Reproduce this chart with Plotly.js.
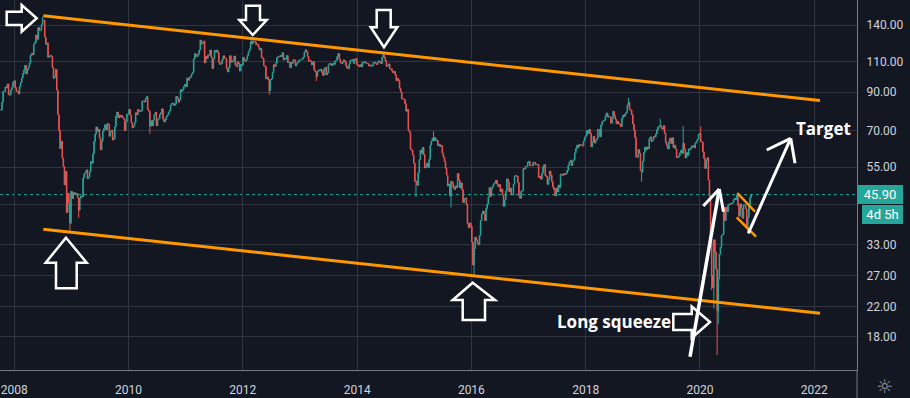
<!DOCTYPE html>
<html><head><meta charset="utf-8">
<script src="https://cdn.plot.ly/plotly-3.0.1.min.js"></script>
<style>html,body{margin:0;padding:0;background:#131722;}#chart{width:910px;height:398px;}</style>
</head><body><div id="chart"></div>
<script>
// ---------- DATA (weekly Brent candles) ----------
const firstWeek = "2007-10-08";
const firstOpen = 80.0;
const close2007 = [80.1,84.3,90.5,90.6,93.2,92.7,95.0,88.6,88.3,91.3,92.9,96.0,97.0];
const close2008 = [92.7,90.6,90.7,89.0,93.4,96.0,98.8,101.8,104.2,107.4,101.5,104.2,106.2,109.0,114.7,116.2,115.0,123.5,125.0,131.0,127.5,137.7,135.0,135.4,140.2,144.2,144.5,129.3,123.3,124.4,113.2,113.8,114.6,114.0,106.0,98.6,99.7,104.6,91.3,77.7,70.0,62.1,65.2,58.3,55.2,48.9,53.5,40.8,46.3,43.4,38.0,46.9];
const close2009 = [44.7,46.5,46.5,45.9,46.2,45.0,41.4,44.8,45.5,45.2,51.2,52.6,53.2,54.0,51.0,51.5,53.4,57.0,56.4,60.0,65.1,68.4,71.6,69.6,70.5,66.7,61.6,65.2,69.5,70.9,72.6,70.2,73.2,72.8,67.4,69.4,70.1,65.7,66.3,71.7,76.9,79.0,76.0,77.4,76.4,77.2,76.1,75.5,70.0,74.0,77.9,77.9];
const close2010 = [80.4,77.4,73.6,71.2,71.9,73.6,78.6,77.6,80.3,79.6,79.2,79.8,84.9,84.9,84.4,86.3,87.4,80.3,79.4,72.0,74.6,72.1,74.9,77.6,78.9,72.1,75.4,75.5,77.7,78.7,80.7,75.4,74.0,75.2,76.7,77.5,78.8,79.9,82.7,83.7,83.7,82.5,83.2,87.5,86.8,84.3,85.6,91.4,90.5,91.8,93.5,94.8];
const close2011 = [93.3,98.7,97.4,99.4,99.3,101.4,102.5,112.1,116.0,113.8,114.0,115.6,118.7,126.6,123.5,123.9,125.9,109.1,113.8,112.4,115.0,114.8,118.8,113.2,105.1,111.9,118.3,117.2,118.7,116.7,109.4,108.0,108.6,111.4,114.3,112.8,112.2,105.0,102.8,105.9,114.4,109.6,109.9,111.0,114.2,107.6,106.4,109.9,108.6,103.4,107.9,107.4];
const close2012 = [113.1,111.0,110.3,111.5,114.6,117.3,119.6,125.5,123.6,125.9,125.8,125.1,122.9,123.4,121.2,118.8,120.0,113.2,112.3,107.1,106.8,98.4,99.5,97.6,90.9,97.8,98.2,102.4,107.8,106.5,108.9,112.9,113.7,113.6,114.6,113.8,116.7,111.4,112.4,111.9,114.6,109.4,109.6,105.7,109.4,108.9,111.4,111.2,107.0,108.9,109.3,110.8,111.3];
const close2013 = [111.6,111.9,113.3,116.8,118.9,117.7,114.0,110.4,110.9,109.8,107.6,110.0,104.1,102.9,99.7,103.2,104.2,103.9,104.6,102.6,100.4,104.6,105.9,100.9,102.2,107.7,108.8,108.1,107.2,108.9,108.0,110.4,111.0,114.0,116.1,111.7,109.2,108.6,109.5,111.3,109.9,106.9,105.5,105.1,108.5,111.1,110.8,111.6,108.8,111.8,112.2,107.9];
const close2014 = [107.3,106.5,107.9,106.4,109.6,109.1,110.0,109.1,108.7,108.6,106.9,107.6,106.7,107.3,109.5,109.6,108.6,108.0,109.8,110.5,109.4,108.6,113.0,114.8,113.3,110.6,106.7,107.2,108.4,105.0,105.0,103.5,102.3,103.2,100.8,97.1,98.4,97.0,92.3,90.2,86.2,86.1,85.9,83.4,79.4,80.4,70.2,69.1,61.9,61.4,59.5,56.4];
const close2015 = [50.1,50.2,48.8,53.0,57.8,61.5,60.2,62.6,59.7,54.7,55.3,56.4,54.9,57.9,63.5,65.3,66.5,65.4,66.8,65.4,65.6,63.3,63.9,63.0,63.3,60.3,58.7,57.1,54.6,52.2,48.6,49.2,45.5,50.1,49.6,48.1,47.5,48.6,48.1,52.7,50.5,48.0,49.6,47.4,43.6,44.7,44.9,43.0,37.9,36.9,38.1,37.3];
const close2016 = [33.6,28.9,32.2,34.7,34.1,33.4,33.0,35.1,38.7,40.4,41.2,40.4,38.7,41.9,43.1,45.1,48.1,45.4,47.8,48.7,49.3,49.6,50.5,49.2,48.4,49.0,46.8,47.6,45.7,42.5,44.3,47.0,50.9,49.9,46.8,47.9,45.8,45.9,49.1,51.9,52.0,51.8,49.7,45.6,44.8,46.9,47.2,54.5,54.3,55.2,55.2,56.8];
const close2017 = [57.1,55.5,55.5,55.5,56.8,56.7,55.8,56.0,55.9,51.4,51.8,50.8,52.8,55.2,55.9,52.0,51.7,49.1,50.8,53.6,52.2,50.0,48.2,47.4,45.5,47.9,46.7,48.9,48.1,52.5,52.4,52.1,52.7,52.4,52.8,53.8,55.6,56.9,57.5,55.6,57.2,57.8,60.4,62.1,63.5,62.7,63.9,63.7,63.4,63.2,65.3,66.9];
const close2018 = [67.6,69.9,68.6,70.5,68.6,62.8,64.8,67.3,64.4,65.5,66.2,70.5,70.3,67.1,72.6,74.1,74.6,74.9,77.1,78.5,76.4,76.8,76.5,73.4,75.6,79.4,77.1,75.3,73.1,74.3,73.2,72.8,71.8,75.8,77.4,76.8,78.1,78.8,82.7,84.2,80.4,79.8,77.6,73.0,70.2,66.8,58.8,58.7,61.7,60.3,53.8,53.2,57.1];
const close2019 = [60.5,62.7,61.6,62.8,62.1,66.3,67.1,65.1,65.7,67.2,67.0,68.4,70.3,71.6,72.0,72.2,70.9,70.6,72.2,68.7,64.5,63.3,62.0,65.2,66.6,64.2,66.7,62.5,63.5,61.9,58.5,58.6,59.3,60.4,61.5,60.2,64.3,61.9,58.4,60.5,59.4,62.0,61.7,62.5,63.3,63.4,62.4,64.4,65.2,66.1,68.2,68.6];
const close2020 = [65.0,64.9,60.7,58.2,54.5,57.3,58.5,50.5,45.3,33.9,27.0,24.9,34.1,31.5,28.1,21.4,26.4,31.0,32.5,35.1,35.3,42.3,38.7,42.2,41.0,42.8,43.2,43.1,43.3,43.5,44.4,44.8,44.4,45.8,42.7,39.8,43.2,41.9,39.3,42.9,42.9,41.8,37.5,39.5,42.8,45.0,45.9];
// visible wick extremes (week start, price)
const wickHighs = [["2008-06-30",147.8],["2011-04-04",127.0],["2012-02-27",128.4],["2013-02-04",119.2],["2014-06-16",115.7],["2015-05-04",69.6],["2018-10-01",86.7],["2019-04-22",75.6],["2019-09-16",72.0],["2020-01-06",71.8]];
const wickLows = [["2008-12-22",36.2],["2009-02-16",39.4],["2010-05-17",68.5],["2012-06-18",88.5],["2013-04-15",96.8],["2015-01-12",45.2],["2015-08-24",42.2],["2016-01-18",27.1],["2018-12-24",50.0],["2020-03-16",24.5],["2020-03-30",21.7],["2020-04-20",15.98],["2020-04-27",19.6],["2020-10-26",37.2],["2020-11-02",36.0]];
const yTickVals = [18,22,27,33,43,55,70,90,110,140];
const yTickText = ["18.00","22.00","27.00","33.00","","55.00","70.00","90.00","110.00","140.00"];
const xTickVals = ["2008-01-01","2010-01-01","2012-01-01","2014-01-01","2016-01-01","2018-01-01","2020-01-01","2022-01-01"];
const xTickText = ["2008","2010","2012","2014","2016","2018","2020","2022"];
const lastPriceText = "45.90";
const countdownText = "4d 5h";
const labelTarget = "Target";
const labelSqueeze = "Long squeeze";

// ---------- build candles ----------
const closes = [].concat(close2007,close2008,close2009,close2010,close2011,close2012,close2013,close2014,close2015,close2016,close2017,close2018,close2019,close2020);
const t0 = Date.parse(firstWeek + "T00:00:00Z");
const dates = closes.map((_, i) => new Date(t0 + i * 7 * 864e5).toISOString().slice(0, 10));
const opens = closes.map((c, i) => i === 0 ? firstOpen : closes[i - 1]);
const highs = closes.map((c, i) => Math.max(c, opens[i]));
const lows = closes.map((c, i) => Math.min(c, opens[i]));
wickHighs.forEach(([d, v]) => { const i = dates.indexOf(d); if (i >= 0) highs[i] = Math.max(highs[i], v); });
wickLows.forEach(([d, v]) => { const i = dates.indexOf(d); if (i >= 0) lows[i] = Math.min(lows[i], v); });
const lastClose = closes[closes.length - 1];

// ---------- drawing helpers (plot area pixels -> paper) ----------
const PW = 857, PH = 370;
const X = px => px / PW;
const Y = py => 1 - py / PH;
const BG = '#131722';
const path = pts => 'M' + pts.map(p => X(p[0]).toFixed(5) + ',' + Y(p[1]).toFixed(5)).join(' L') + ' Z';
const line = (x0, y0, x1, y1, color, width) => ({type:'line', xref:'paper', yref:'paper', x0:X(x0), y0:Y(y0), x1:X(x1), y1:Y(y1), line:{color:color, width:width}, layer:'above'});
const blockArrow = pts => ({type:'path', xref:'paper', yref:'paper', path:path(pts), fillcolor:BG, line:{color:'#ffffff', width:2.5}, layer:'above'});

const shapes = [
  // price line
  {type:'line', xref:'paper', yref:'y', x0:0, x1:1, y0:lastClose, y1:lastClose, line:{color:'#26a69a', width:1, dash:'dot'}, layer:'below'},
  // channel trendlines
  line(43.3, 15.7, 820, 100.5, '#ff9800', 3),
  line(43.3, 229.3, 820, 313.3, '#ff9800', 3),
  // small flag
  line(737.3, 193, 755, 211.7, '#ff9800', 2.5),
  line(736.7, 217.3, 756, 236.7, '#ff9800', 2.5),
  // block arrows
  blockArrow([[6.7,11.7],[21.7,11.7],[21.7,5],[36.7,18.3],[21.7,31.7],[21.7,25],[6.7,25]]),
  blockArrow([[246,5.7],[260,5.7],[260,20],[266.7,20],[252.7,35],[239.3,20],[246,20]]),
  blockArrow([[376.7,10],[390.7,10],[390.7,27.3],[397.3,27.3],[384,47.3],[370.7,27.3],[376.7,27.3]]),
  blockArrow([[66,237.7],[86.7,262.7],[76.7,262.7],[76.7,288.3],[56,288.3],[56,262.7],[45.7,262.7]]),
  blockArrow([[472.7,282.7],[495,300],[485,300],[485,320],[462.7,320],[462.7,300],[452.7,300]]),
  blockArrow([[673.3,314],[691.7,314],[691.7,306.5],[710,322],[691.7,338],[691.7,330],[673.3,330]]),
  // long white arrow
  line(690, 356.7, 719.3, 189, '#ffffff', 3.5),
  line(703.3, 206, 719.3, 189, '#ffffff', 3),
  line(719.3, 189, 723.5, 211.7, '#ffffff', 3),
  // target arrow
  line(748.3, 233.3, 790.7, 138.3, '#ffffff', 3),
  line(766.7, 150, 790.7, 138.3, '#ffffff', 3),
  line(790.7, 138.3, 795, 163.3, '#ffffff', 3),
  // price scale separator down to bottom edge
  {type:'line', xref:'paper', yref:'paper', x0:1, x1:1, y0:0, y1:Y(398), line:{color:'#787b86', width:1}},
  // tick mark on the price label
  line(857.5, 194.4, 861.5, 194.4, '#ffffff', 1.5)
];

const annotations = [
  {xref:'paper', yref:'paper', x:X(823.3), y:Y(128.5), xanchor:'center', yanchor:'middle', text:'<b>' + labelTarget + '</b>', showarrow:false, font:{family:'Open Sans', size:17, color:'#ffffff'}},
  {xref:'paper', yref:'paper', x:X(613.5), y:Y(321), xanchor:'center', yanchor:'middle', text:'<b>' + labelSqueeze + '</b>', showarrow:false, font:{family:'Open Sans', size:17, color:'#ffffff'}},
  {xref:'paper', yref:'y', x:1, y:Math.log10(lastClose), xanchor:'left', yanchor:'middle', text:lastPriceText, showarrow:false, bgcolor:'#26a69a', borderwidth:0, borderpad:0, width:46, height:18.5, font:{family:'Roboto', size:13, color:'#ffffff'}},
  {xref:'paper', yref:'y', x:X(862), y:Math.log10(lastClose), yshift:-19.5, xanchor:'left', yanchor:'middle', text:countdownText, showarrow:false, bgcolor:'#26a69a', borderwidth:0, borderpad:0, width:41, height:18.5, font:{family:'Roboto', size:13, color:'#ffffff'}},
  {xref:'paper', yref:'paper', x:X(884), y:Y(386), xanchor:'center', yanchor:'middle', text:'\u263C', showarrow:false, font:{family:'DejaVu Sans', size:19, color:'#9598a1'}}
];

const tickFont = {family:'Roboto', size:12, color:'#d1d4dc'};
const layout = {
  width:910, height:398,
  margin:{l:0, r:53, t:0, b:28, pad:0},
  paper_bgcolor:BG, plot_bgcolor:BG, showlegend:false, dragmode:false,
  xaxis:{type:'date', range:['2007-10-02','2022-10-01'], tickvals:xTickVals, ticktext:xTickText,
    showgrid:true, gridcolor:'#30343f', gridwidth:1, showline:true, linecolor:'#787b86', linewidth:1,
    ticks:'outside', ticklen:9, tickcolor:'rgba(0,0,0,0)', tickfont:tickFont, zeroline:false,
    rangeslider:{visible:false}, fixedrange:true},
  yaxis:{type:'log', side:'right', range:[1.1610, 2.2175], tickvals:yTickVals, ticktext:yTickText,
    showgrid:true, gridcolor:'#30343f', gridwidth:1, showline:true, linecolor:'#787b86', linewidth:1,
    ticks:'outside', ticklen:6, tickcolor:'rgba(0,0,0,0)', tickfont:tickFont, zeroline:false, fixedrange:true},
  shapes:shapes, annotations:annotations
};

const trace = {
  type:'candlestick', x:dates, open:opens, high:highs, low:lows, close:closes,
  increasing:{line:{color:'#26a69a', width:1}, fillcolor:'#26a69a'},
  decreasing:{line:{color:'#ef5350', width:1}, fillcolor:'#ef5350'},
  whiskerwidth:0, hoverinfo:'skip'
};

Plotly.newPlot('chart', [trace], layout, {displayModeBar:false, staticPlot:true});
</script>
</body></html>
